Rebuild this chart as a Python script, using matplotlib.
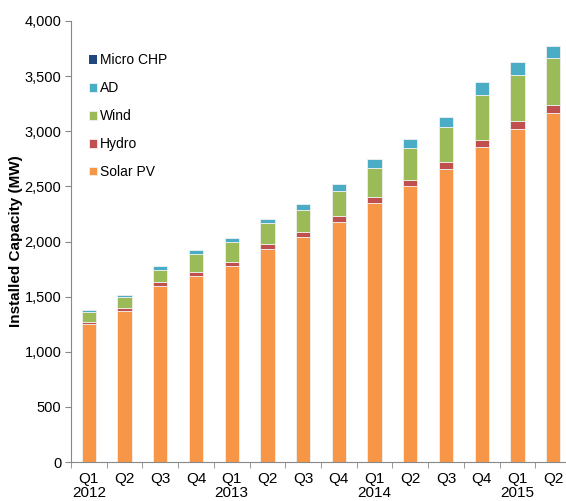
import numpy as np
import matplotlib
matplotlib.use("Agg")
from matplotlib import pyplot as plt
import matplotlib.ticker as plticker

plt.rcParams['font.family'] = ['Liberation Sans', 'DejaVu Sans']

quarters = ['Q1', 'Q2', 'Q3', 'Q4', 'Q1', 'Q2', 'Q3', 'Q4', 'Q1', 'Q2', 'Q3', 'Q4', 'Q1', 'Q2']
years = ['2012', '', '', '', '2013', '', '', '', '2014', '', '', '', '2015', '']

solar_pv = [1249, 1366, 1596, 1690, 1774, 1934, 2045, 2181, 2347, 2500, 2654, 2853, 3016, 3161]
hydro = [20, 28, 33, 32, 39, 45, 45, 48, 54, 58, 64, 67, 73, 73]
wind = [90, 102, 115, 167, 184, 187, 200, 230, 269, 293, 323, 410, 422, 428]
ad = [22, 22, 30, 30, 33, 42, 51, 63, 78, 81, 87, 115, 115, 115]
micro_chp = [0.4, 0.4, 0.4, 0.4, 0.4, 0.4, 0.4, 0.4, 0.4, 0.4, 0.4, 0.4, 0.4, 0.4]

series = [('Solar PV', solar_pv, '#F79646'),
          ('Hydro', hydro, '#C0504D'),
          ('Wind', wind, '#9BBB59'),
          ('AD', ad, '#4BACC6'),
          ('Micro CHP', micro_chp, '#1F497D')]

fig = plt.figure(figsize=(5.66, 5.01), dpi=100)
ax = fig.add_axes([71/566, 39/501, 500/566, 441/501])

x = np.arange(len(quarters))
bottom = np.zeros(len(quarters))
handles = []
for name, vals, col in series:
   lw = 0 if name == 'Micro CHP' else 0.6
   b = ax.bar(x, vals, 0.4, bottom=bottom, color=col, edgecolor='#f0f0f0', linewidth=lw, label=name)
   handles.append(b)
   bottom += np.array(vals)

ax.set_xlim(-0.5, len(quarters) - 0.5)
ax.set_ylim(0, 4000)
ax.yaxis.set_major_locator(plticker.MultipleLocator(500))
ax.yaxis.set_major_formatter(plticker.FuncFormatter(lambda v, p: '{:,.0f}'.format(v)))

ax.set_xticks(x)
ax.set_xticklabels([q + '\n' + y for q, y in zip(quarters, years)], fontsize=11, linespacing=1.0)
ax.set_xticks(np.arange(-0.5, len(quarters), 1), minor=True)
ax.tick_params(axis='x', which='major', length=0, pad=7)
ax.tick_params(axis='x', which='minor', length=4, color='#888888')
ax.tick_params(axis='y', length=4, color='#888888', labelsize=10.5, pad=3)

for s in ['top', 'right']:
   ax.spines[s].set_visible(False)
for s in ['left', 'bottom']:
   ax.spines[s].set_color('#888888')

ax.set_ylabel('Installed Capacity (MW)', fontsize=11, fontweight='bold', labelpad=1)

leg = ax.legend(handles[::-1], [s[0] for s in series][::-1], loc='upper left',
                bbox_to_anchor=(0.01, 0.955), frameon=False, fontsize=10,
                handlelength=0.6, handleheight=0.6, handletextpad=0.2, labelspacing=1.0)

plt.savefig('out.png', dpi=100)
